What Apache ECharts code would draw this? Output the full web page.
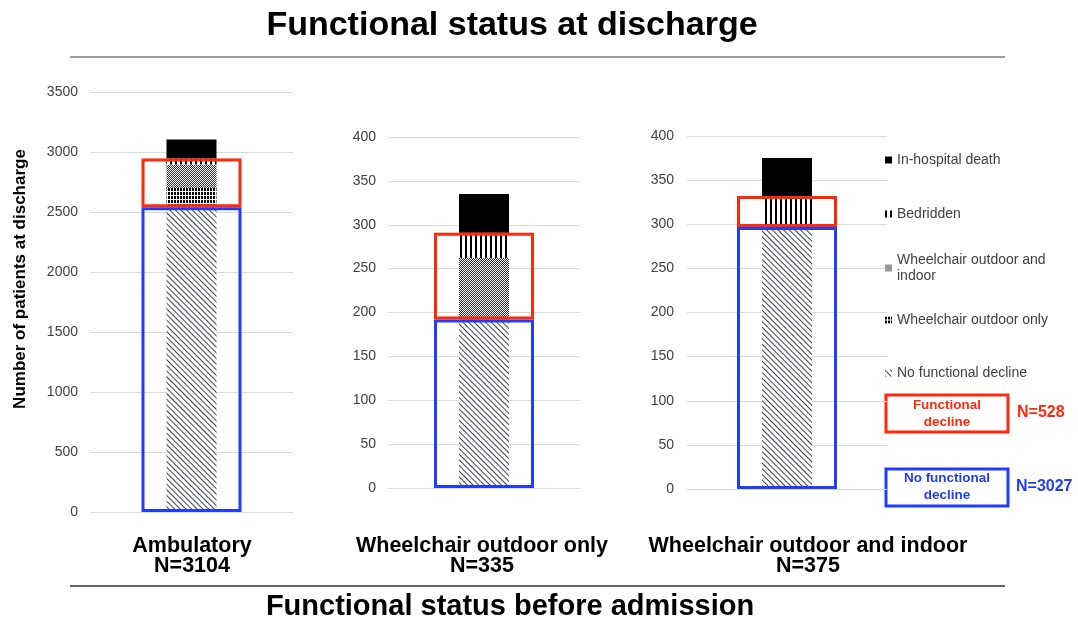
<!DOCTYPE html>
<html><head><meta charset="utf-8">
<script src="https://cdn.jsdelivr.net/npm/echarts@6/dist/echarts.min.js"></script>
<style>html,body{margin:0;padding:0;background:#fff}#c{width:1078px;height:623px}</style>
</head><body><div id="c"></div>
<script>
// ---- data ----
const categories = ['Ambulatory', 'Wheelchair outdoor only', 'Wheelchair outdoor and indoor'];
const categoryN = ['N=3104', 'N=335', 'N=375'];
const layerNames = ['No functional decline', 'Wheelchair outdoor only', 'Wheelchair outdoor and indoor', 'Bedridden', 'In-hospital death'];
const noDecline = [2540, 192, 297];
const wcOutdoorOnly = [160, 0, 0];
const wcOutdoorIndoor = [195, 70, 0];
const bedridden = [50, 29, 35];
const death = [159, 44, 43];
const yMax = [3500, 400, 400];
const yInterval = [500, 50, 50];
const boxLabels = ['Functional\ndecline', 'No functional\ndecline'];
const boxN = ['N=528', 'N=3027'];
const titleTop = 'Functional status at discharge';
const titleBottom = 'Functional status before admission';
const yName = 'Number of patients at discharge';

// ---- styling / layout ----
const FONT = "'Liberation Sans', Arial, sans-serif";
const RED = '#ff2a0a', BLUE = '#1f3cff';
const layers = [noDecline, wcOutdoorOnly, wcOutdoorIndoor, bedridden, death];
const declineSum = [0, 1, 2].map(k => wcOutdoorOnly[k] + wcOutdoorIndoor[k] + bedridden[k]);
const layerStyles = [
  { color: '#ffffff', decal: { symbol: 'rect', symbolSize: 1, color: '#3a4252', dashArrayX: [4, 0], dashArrayY: [1, 2.6], rotation: Math.PI / 4 } },
  { color: '#ffffff', decal: { symbol: 'rect', symbolSize: 1, color: '#000000', dashArrayX: [2, 1], dashArrayY: [3, 1] } },
  { color: '#ffffff', decal: { symbol: 'rect', symbolSize: 1, color: '#303030', dashArrayX: [[1, 1], [0, 1, 1, 0]], dashArrayY: [1, 0] } },
  { color: '#ffffff', decal: { symbol: 'rect', symbolSize: 1, color: '#000000', dashArrayX: [2, 3], dashArrayY: [5, 0] } },
  { color: '#000000' }
];
const grids = [
  { left: 90, top: 92, width: 203, height: 420 },
  { left: 388, top: 137, width: 192, height: 351 },
  { left: 687, top: 136, width: 200, height: 353 }
];
const labelMargins = [12, 12, 13];
const catCenters = [192, 482, 808];

const xAxis = [], yAxis = [], series = [];
for (let k = 0; k < 3; k++) {
  xAxis.push({ type: 'category', gridIndex: k, data: [categories[k]], show: false });
  xAxis.push({ type: 'category', gridIndex: k, data: [categories[k]], show: false });
  yAxis.push({
    type: 'value', gridIndex: k, min: 0, max: yMax[k], interval: yInterval[k],
    axisLine: { show: false }, axisTick: { show: false },
    axisLabel: { fontSize: 14, color: '#404040', margin: labelMargins[k], fontFamily: FONT, formatter: v => String(v) },
    splitLine: { lineStyle: { color: '#d9d9d9', width: 1 } }
  });
  layers.forEach((arr, i) => {
    series.push({
      type: 'bar', name: layerNames[i], xAxisIndex: 2 * k, yAxisIndex: k, stack: 'p' + k,
      barWidth: 50, data: [arr[k]], itemStyle: layerStyles[i]
    });
  });
  series.push({
    type: 'bar', name: 'No functional decline (group)', xAxisIndex: 2 * k + 1, yAxisIndex: k, stack: 'b' + k,
    barWidth: 100, data: [noDecline[k]], z: 3,
    itemStyle: { color: 'rgba(0,0,0,0)', borderColor: BLUE, borderWidth: 3 }
  });
  series.push({
    type: 'bar', name: 'Functional decline (group)', xAxisIndex: 2 * k + 1, yAxisIndex: k, stack: 'b' + k,
    barWidth: 100, data: [declineSum[k]], z: 4,
    itemStyle: { color: 'rgba(0,0,0,0)', borderColor: RED, borderWidth: 3 }
  });
}

const legendOrder = [4, 3, 2, 1, 0];
const legendY = [160, 214, 268, 320, 373];
const legend = legendOrder.map((li, j) => {
  const two = li === 2;
  return {
    data: [two ? { name: layerNames[li], textStyle: { padding: [16, 0, 0, 0] } } : layerNames[li]],
    left: 885, top: legendY[j] - (two ? 24 : 8), orient: 'vertical', padding: 0,
    icon: 'rect', itemWidth: 7, itemHeight: 7,
    formatter: n => n === 'Wheelchair outdoor and indoor' ? 'Wheelchair outdoor and\nindoor' : n,
    textStyle: { fontSize: 14, color: '#404040', lineHeight: 16, fontFamily: FONT }
  };
});

const graphic = [
  { type: 'text', x: 512, y: 26, style: { text: titleTop, align: 'center', verticalAlign: 'middle', font: 'bold 34px ' + FONT, fill: '#000' } },
  { type: 'line', shape: { x1: 70, y1: 57, x2: 1005, y2: 57 }, style: { stroke: '#7f7f7f', lineWidth: 1.5 } },
  { type: 'line', shape: { x1: 70, y1: 586, x2: 1005, y2: 586 }, style: { stroke: '#333', lineWidth: 1.5 } },
  { type: 'text', x: 510, y: 607, style: { text: titleBottom, align: 'center', verticalAlign: 'middle', font: 'bold 29px ' + FONT, fill: '#000' } },
  { type: 'text', x: 20, y: 279, rotation: Math.PI / 2, style: { text: yName, align: 'center', verticalAlign: 'middle', font: 'bold 17px ' + FONT, fill: '#000' } },
  { type: 'rect', shape: { x: 886, y: 395, width: 122, height: 37 }, style: { fill: 'none', stroke: RED, lineWidth: 3 } },
  { type: 'text', x: 947, y: 414, style: { text: boxLabels[0], align: 'center', verticalAlign: 'middle', font: 'bold 13.5px ' + FONT, lineHeight: 17, fill: RED } },
  { type: 'text', x: 1017, y: 413, style: { text: boxN[0], align: 'left', verticalAlign: 'middle', font: 'bold 16px ' + FONT, fill: RED } },
  { type: 'rect', shape: { x: 886, y: 469, width: 122, height: 37 }, style: { fill: 'none', stroke: BLUE, lineWidth: 3 } },
  { type: 'text', x: 947, y: 487, style: { text: boxLabels[1], align: 'center', verticalAlign: 'middle', font: 'bold 13.5px ' + FONT, lineHeight: 17, fill: BLUE } },
  { type: 'text', x: 1016, y: 487, style: { text: boxN[1], align: 'left', verticalAlign: 'middle', font: 'bold 16px ' + FONT, fill: BLUE } }
];
for (let k = 0; k < 3; k++) {
  graphic.push({ type: 'text', x: catCenters[k], y: 556, style: { text: categories[k] + '\n' + categoryN[k], align: 'center', verticalAlign: 'middle', font: 'bold 21.5px ' + FONT, lineHeight: 20, fill: '#000' } });
}

const chart = echarts.init(document.getElementById('c'), null, { renderer: 'canvas' });
chart.setOption({
  animation: false,
  backgroundColor: '#fff',
  grid: grids,
  xAxis, yAxis, series, legend, graphic
});
</script></body></html>
